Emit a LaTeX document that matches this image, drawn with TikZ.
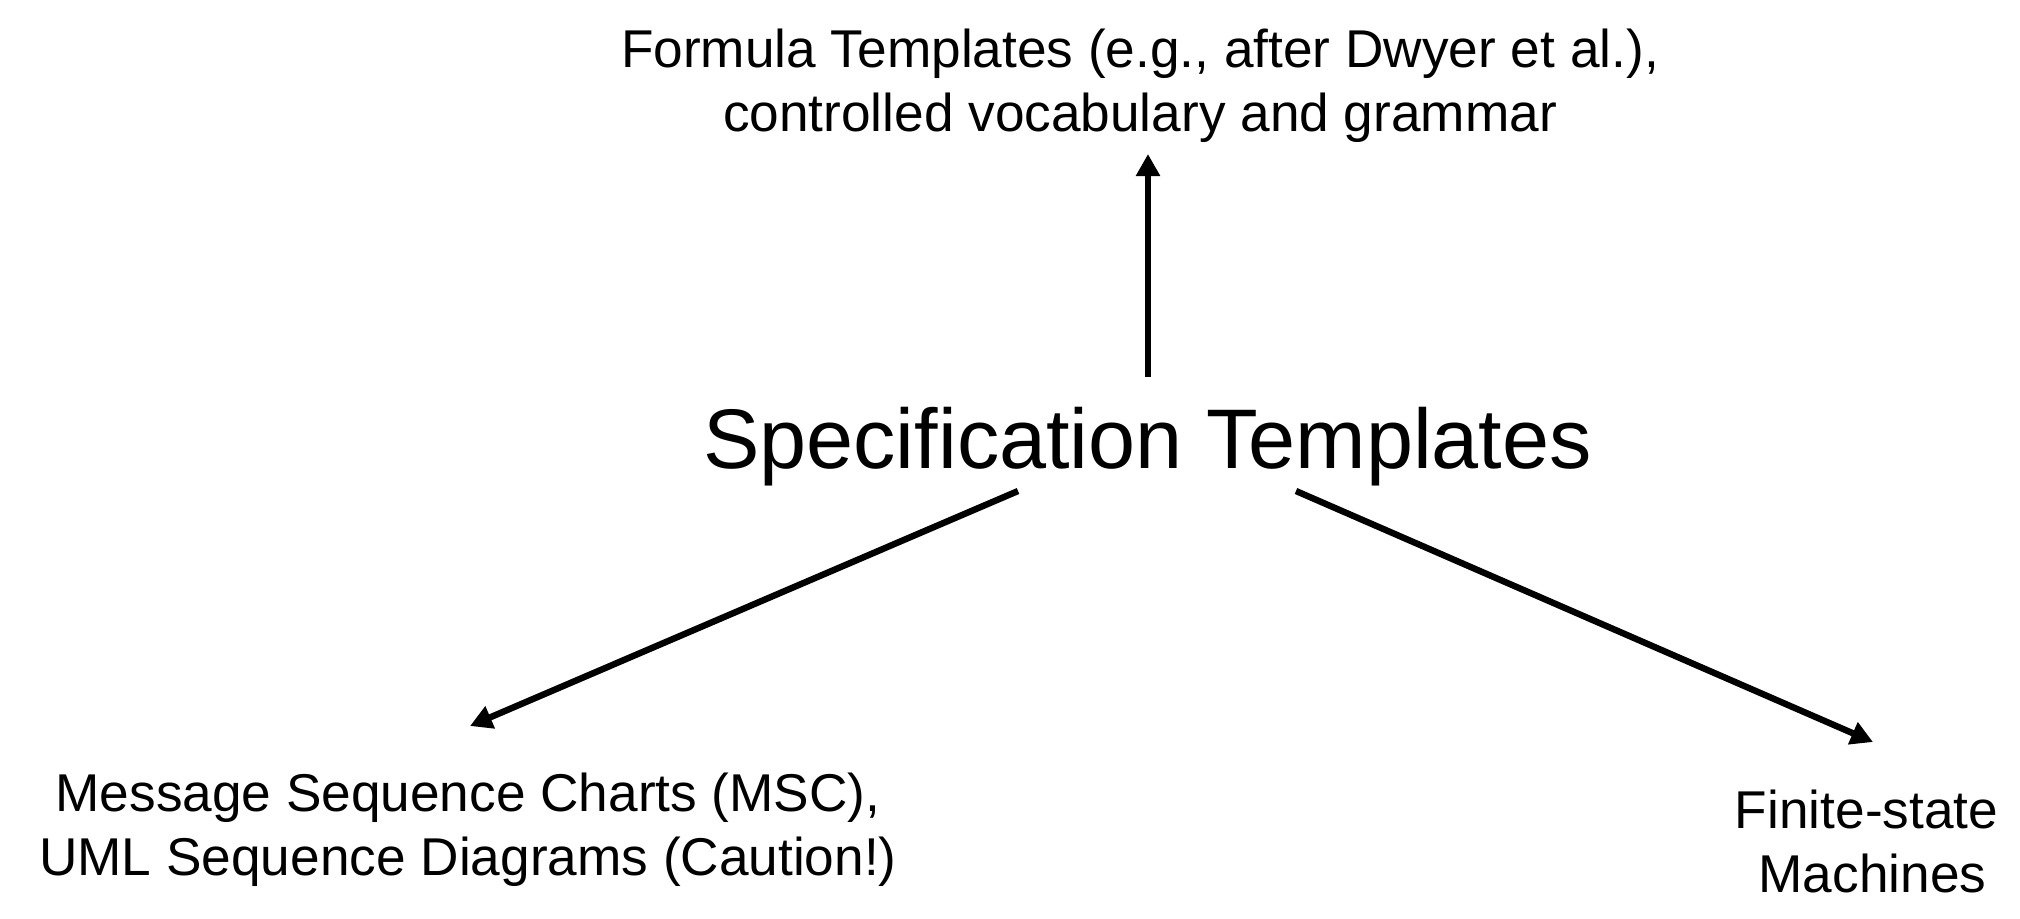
\documentclass[tikz,border=0pt]{standalone}
\usepackage{fontspec}
\setmainfont{Liberation Sans}
\usetikzlibrary{arrows.meta}
\tikzset{
  lbl/.style={anchor=base, align=center, inner sep=0pt, font=\fontsize{26.6}{31.8}\selectfont},
  big/.style={anchor=base, inner sep=0pt, font=\fontsize{42.3}{50}\selectfont},
  conn/.style={line width=3.2pt, -{Triangle[length=11pt,width=11.5pt]}}
}
\begin{document}
\begin{tikzpicture}[x=0.5pt,y=-0.5pt]
\useasboundingbox (0,0) rectangle (2020,918);
\node[lbl] (formula) at (1140,131) {Formula Templates (e.g., after Dwyer et al.),\\controlled vocabulary and grammar};
\node[big] (spec) at (1147.5,468) {Specification Templates};
\node[lbl] (msc) at (468,875) {Message Sequence Charts (MSC),\\UML Sequence Diagrams (Caution!)};
\node[lbl] (fsm) at (1866.5,892) {Finite-state\\\hphantom{i}Machines};
\coordinate (upS) at (1148,377);
\coordinate (upT) at (1148,154);
\coordinate (lS) at (1018,491);
\coordinate (lT) at (470,726);
\coordinate (rS) at (1296,491);
\coordinate (rT) at (1873,742);
\draw[conn] (upS) -- (upT);
\draw[conn] (lS) -- (lT);
\draw[conn] (rS) -- (rT);
\end{tikzpicture}
\end{document}
